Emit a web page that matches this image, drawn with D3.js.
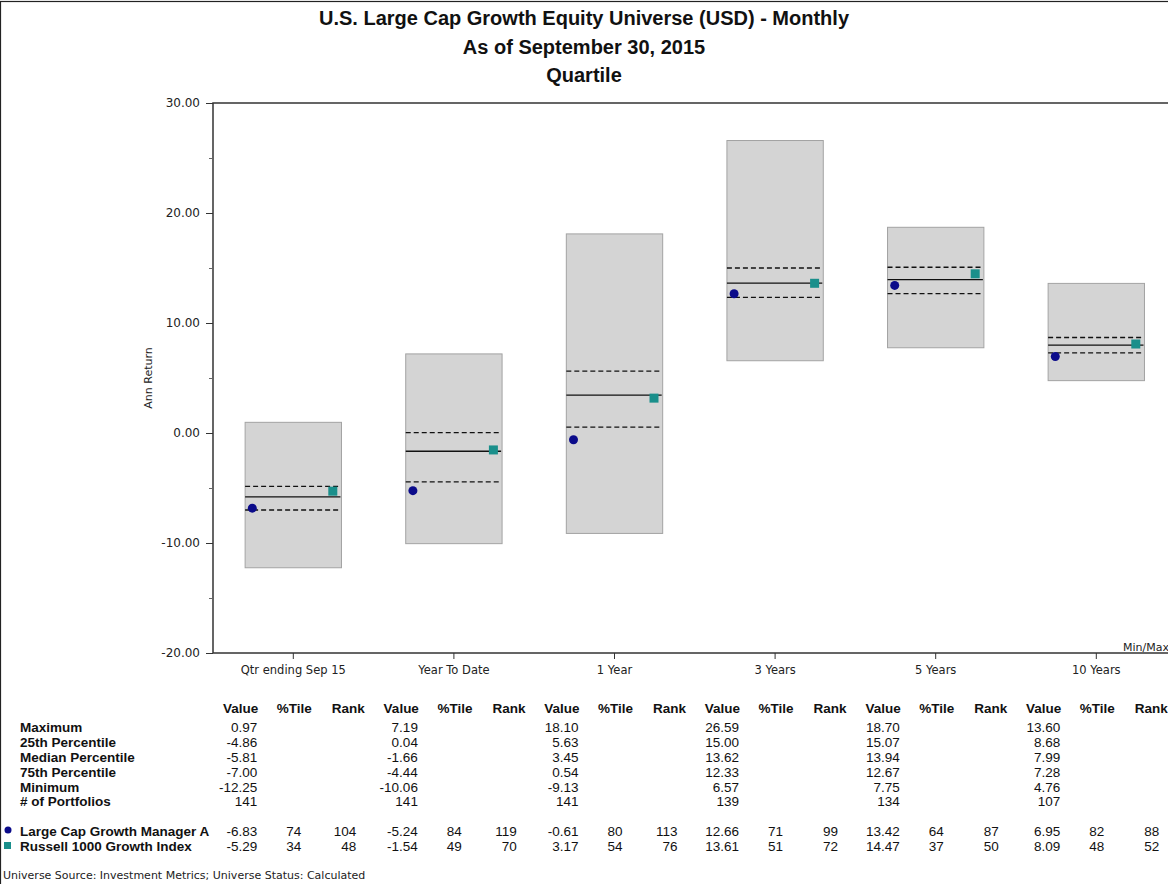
<!DOCTYPE html>
<html>
<head>
<meta charset="utf-8">
<script src="https://cdn.jsdelivr.net/npm/d3@7"></script>
<style>
	body { margin: 0; background: #fff; }
	svg { display: block; }
</style>
</head>
<body>
<div class="quartileChart"></div>
<script>
const categories = ['Qtr ending Sep 15', 'Year To Date', '1 Year', '3 Years', '5 Years', '10 Years'];
const maxVals = [0.97, 7.19, 18.10, 26.59, 18.70, 13.60];
const p25Vals = [-4.86, 0.04, 5.63, 15.00, 15.07, 8.68];
const medianVals = [-5.81, -1.66, 3.45, 13.62, 13.94, 7.99];
const p75Vals = [-7.00, -4.44, 0.54, 12.33, 12.67, 7.28];
const minVals = [-12.25, -10.06, -9.13, 6.57, 7.75, 4.76];
const portfolios = [141, 141, 141, 139, 134, 107];
const managerVals = [-6.83, -5.24, -0.61, 12.66, 13.42, 6.95];
const managerPct = [74, 84, 80, 71, 64, 82];
const managerRank = [104, 119, 113, 99, 87, 88];
const indexVals = [-5.29, -1.54, 3.17, 13.61, 14.47, 8.09];
const indexPct = [34, 49, 54, 51, 37, 48];
const indexRank = [48, 70, 76, 72, 50, 52];
const yMajor = [-20, -10, 0, 10, 20, 30];
const yMinor = [-15, -5, 5, 15, 25];
const titleLines = ['U.S. Large Cap Growth Equity Universe (USD) - Monthly', 'As of September 30, 2015', 'Quartile'];

const NAVY = '#0b0b8a';
const TEAL = '#1a8f8b';
const LABEL_FONT = '"DejaVu Sans", Verdana, sans-serif';
const TABLE_FONT = '"Liberation Sans", Arial, sans-serif';

// plain hyphen for negatives, like the source report
const f2 = d3.formatLocale({ decimal: '.', thousands: ',', grouping: [3], currency: ['$', ''], minus: '-' }).format('.2f');

drawQuartileChart(1168, 884);

function drawQuartileChart(width, height) {
	const plot = { left: 213, top: 103, bottom: 653, step: 160.6 };
	plot.right = plot.left + plot.step * categories.length;

	const svg = d3.select('.quartileChart')
	.append('svg')
	.attr('width', width)
	.attr('height', height);

	// outer frame, runs off the page on the right like the source
	svg.append('rect')
	.attr('x', 0.5).attr('y', 1.5)
	.attr('width', width + 20).attr('height', height + 20)
	.attr('fill', 'none').attr('stroke', '#222').attr('stroke-width', 1.2);

	svg.selectAll('text.title')
	.data(titleLines)
	.enter().append('text')
	.attr('class', 'title')
	.attr('x', width / 2)
	.attr('y', (d, i) => 25 + i * 28.5)
	.attr('text-anchor', 'middle')
	.style('font-family', '"Liberation Sans Narrow", "Arial Narrow", "Liberation Sans", Arial, sans-serif')
	.style('font-weight', 'bold')
	.style('font-size', '20px')
	.attr('fill', '#111')
	.text(d => d);

	const x = d3.scaleBand()
	.domain(categories)
	.range([plot.left, plot.right]);
	const y = d3.scaleLinear()
	.domain([-20, 30])
	.range([plot.bottom, plot.top]);
	const cx = c => x(c) + x.bandwidth() / 2;
	const boxW = x.bandwidth() * 0.6;

	svg.append('rect')
	.attr('x', plot.left).attr('y', plot.top)
	.attr('width', plot.right - plot.left).attr('height', plot.bottom - plot.top)
	.attr('fill', 'none').attr('stroke', '#333').attr('stroke-width', 1.5);

	// y axis
	const yAxis = svg.append('g')
	.attr('transform', `translate(${plot.left},0)`)
	.call(d3.axisLeft(y).tickValues(yMajor).tickFormat(f2).tickSize(7).tickPadding(6));
	yAxis.select('.domain').remove();
	yAxis.selectAll('line').attr('stroke', '#333');
	yAxis.selectAll('text')
	.style('font-family', LABEL_FONT).style('font-size', '12px').attr('fill', '#222');

	const yMinorAxis = svg.append('g')
	.attr('transform', `translate(${plot.left},0)`)
	.call(d3.axisLeft(y).tickValues(yMinor).tickFormat('').tickSize(4));
	yMinorAxis.select('.domain').remove();
	yMinorAxis.selectAll('line').attr('stroke', '#666');

	svg.append('text')
	.attr('transform', `translate(152,${y(5)}) rotate(-90)`)
	.attr('text-anchor', 'middle')
	.style('font-family', LABEL_FONT).style('font-size', '11px')
	.attr('fill', '#222')
	.text('Ann Return');

	// x axis
	const xAxis = svg.append('g')
	.attr('transform', `translate(0,${plot.bottom})`)
	.call(d3.axisBottom(x).tickSize(6).tickPadding(7));
	xAxis.select('.domain').remove();
	xAxis.selectAll('line').attr('stroke', '#333');
	xAxis.selectAll('text')
	.style('font-family', LABEL_FONT).style('font-size', '11.5px').attr('fill', '#222');

	svg.append('text')
	.attr('x', 1123).attr('y', plot.bottom - 2)
	.style('font-family', LABEL_FONT).style('font-size', '11px')
	.attr('fill', '#222')
	.text('Min/Max');

	// boxes
	const groups = svg.selectAll('g.box')
	.data(categories)
	.enter().append('g')
	.attr('class', 'box');

	groups.append('rect')
	.attr('x', d => cx(d) - boxW / 2)
	.attr('y', (d, i) => y(maxVals[i]))
	.attr('width', boxW)
	.attr('height', (d, i) => y(minVals[i]) - y(maxVals[i]))
	.attr('fill', '#d4d4d4')
	.attr('stroke', '#a3a3a3');

	const quartLines = [
		{ vals: p25Vals, dash: '5,3' },
		{ vals: medianVals, dash: null },
		{ vals: p75Vals, dash: '5,3' }
	];
	quartLines.forEach(q => {
		groups.append('line')
		.attr('x1', d => cx(d) - boxW / 2)
		.attr('x2', d => cx(d) + boxW / 2 - 1)
		.attr('y1', (d, i) => y(q.vals[i]))
		.attr('y2', (d, i) => y(q.vals[i]))
		.attr('stroke', '#111')
		.attr('stroke-width', 1.3)
		.attr('stroke-dasharray', q.dash);
	});

	groups.append('circle')
	.attr('cx', d => cx(d) - 41)
	.attr('cy', (d, i) => y(managerVals[i]))
	.attr('r', 4.5)
	.attr('fill', NAVY);

	groups.append('rect')
	.attr('x', d => cx(d) + 35)
	.attr('y', (d, i) => y(indexVals[i]) - 4.5)
	.attr('width', 9).attr('height', 9)
	.attr('fill', TEAL);

	drawTable(svg, cx);
}

function drawTable(svg, cx) {
	const rowLabels = ['Maximum', '25th Percentile', 'Median Percentile', '75th Percentile', 'Minimum', '# of Portfolios'];
	const statRows = [maxVals.map(f2), p25Vals.map(f2), medianVals.map(f2), p75Vals.map(f2), minVals.map(f2), portfolios];
	const rowY = [732, 747, 762, 777, 792, 806];

	const txt = (xPos, yPos, s, anchor, bold) => svg.append('text')
	.attr('x', xPos).attr('y', yPos)
	.attr('text-anchor', anchor)
	.style('font-family', TABLE_FONT)
	.style('font-size', '13.5px')
	.style('font-weight', bold ? 'bold' : 'normal')
	.attr('fill', '#111')
	.text(s);

	categories.forEach(c => {
		txt(cx(c) - 35, 713, 'Value', 'end', true);
		txt(cx(c) + 1, 713, '%Tile', 'middle', true);
		txt(cx(c) + 55, 713, 'Rank', 'middle', true);
	});

	rowLabels.forEach((label, r) => {
		txt(20, rowY[r], label, 'start', true);
		categories.forEach((c, i) => txt(cx(c) - 36, rowY[r], statRows[r][i], 'end', false));
	});

	const seriesRows = [
		{ label: 'Large Cap Growth Manager A', vals: managerVals, pct: managerPct, rank: managerRank, y: 836 },
		{ label: 'Russell 1000 Growth Index', vals: indexVals, pct: indexPct, rank: indexRank, y: 851 }
	];
	seriesRows.forEach(s => {
		txt(20, s.y, s.label, 'start', true);
		categories.forEach((c, i) => {
			txt(cx(c) - 36, s.y, f2(s.vals[i]), 'end', false);
			txt(cx(c) + 8, s.y, s.pct[i], 'end', false);
			txt(cx(c) + 63, s.y, s.rank[i], 'end', false);
		});
	});

	svg.append('circle')
	.attr('cx', 8).attr('cy', 830).attr('r', 3.5)
	.attr('fill', NAVY);
	svg.append('rect')
	.attr('x', 4).attr('y', 842).attr('width', 7).attr('height', 7)
	.attr('fill', TEAL);

	svg.append('text')
	.attr('x', 3).attr('y', 879)
	.style('font-family', LABEL_FONT).style('font-size', '11px')
	.attr('fill', '#222')
	.text('Universe Source: Investment Metrics; Universe Status: Calculated');
}
</script>
</body>
</html>
